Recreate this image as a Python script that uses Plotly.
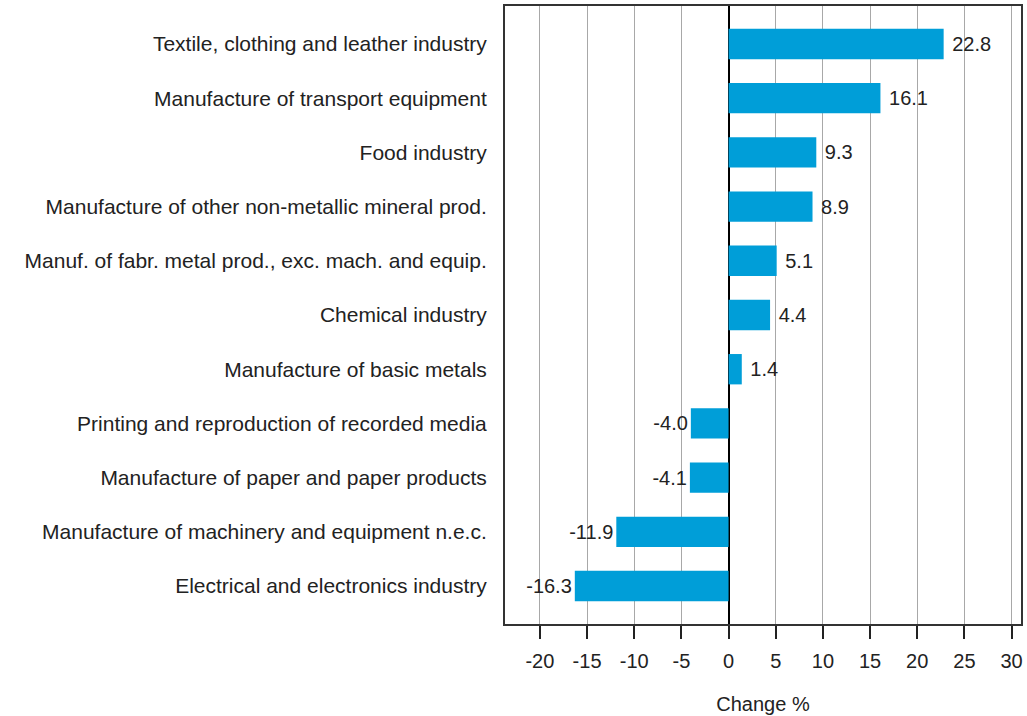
import plotly.graph_objects as go

categories = [
    "Textile, clothing and leather industry",
    "Manufacture of transport equipment",
    "Food industry",
    "Manufacture of other non-metallic mineral prod.",
    "Manuf. of fabr. metal prod., exc. mach. and equip.",
    "Chemical industry",
    "Manufacture of basic metals",
    "Printing and reproduction of recorded media",
    "Manufacture of paper and paper products",
    "Manufacture of machinery and equipment n.e.c.",
    "Electrical and electronics industry",
]
values = [22.8, 16.1, 9.3, 8.9, 5.1, 4.4, 1.4, -4.0, -4.1, -11.9, -16.3]
x_ticks = [-20, -15, -10, -5, 0, 5, 10, 15, 20, 25, 30]

FONT = "Liberation Sans, Arial, sans-serif"
FS = 21

labels = [(" " + f"{v:.1f}") if v >= 0 else f"{v:.1f}" for v in values]

fig = go.Figure(
    go.Bar(
        x=values,
        y=categories,
        orientation="h",
        marker=dict(color="#009ED8", line=dict(width=0)),
        width=0.56,
        text=labels,
        textposition="outside",
        constraintext="none",
        textfont=dict(family=FONT, size=FS - 1, color="#222222"),
        cliponaxis=False,
        hoverinfo="skip",
    )
)

fig.update_layout(
    width=1027,
    height=716,
    margin=dict(l=505, r=4, t=5, b=92),
    paper_bgcolor="white",
    plot_bgcolor="white",
    showlegend=False,
    font=dict(family=FONT, size=FS, color="#222222"),
)

fig.update_xaxes(
    range=[-23.7, 31.0],
    tickvals=x_ticks,
    ticktext=[str(t) for t in x_ticks],
    showgrid=True,
    gridcolor="#a8a8a8",
    gridwidth=1,
    zeroline=True,
    zerolinecolor="#000000",
    zerolinewidth=2,
    showline=True,
    linecolor="#333333",
    linewidth=2,
    mirror=True,
    ticks="outside",
    ticklen=13,
    tickwidth=2,
    tickcolor="#222222",
    ticklabelstandoff=5,
    tickfont=dict(family=FONT, size=FS - 1, color="#222222"),
    title=dict(text="Change %", font=dict(family=FONT, size=FS - 1, color="#222222"), standoff=26),
)

fig.update_yaxes(
    categoryorder="array",
    categoryarray=categories,
    range=[10.7, -0.7],
    showgrid=False,
    zeroline=False,
    showline=True,
    linecolor="#333333",
    linewidth=2,
    mirror=True,
    ticks="outside",
    ticklen=12,
    tickcolor="rgba(0,0,0,0)",
    tickfont=dict(family=FONT, size=FS, color="#222222"),
)

fig.write_html(
    "out.html",
    config={"displayModeBar": False},
    post_script="document.body.style.margin='0';document.body.style.overflow='hidden';",
)
